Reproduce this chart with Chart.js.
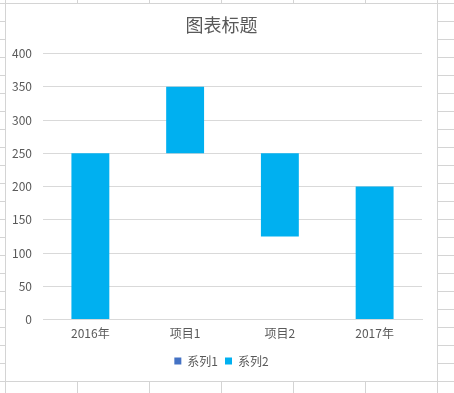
<!DOCTYPE html>
<html><head><meta charset="utf-8">
<script src="https://cdn.jsdelivr.net/npm/chart.js@4/dist/chart.umd.min.js"></script>
<style>
html,body{margin:0;padding:0;width:454px;height:393px;overflow:hidden;background:#fff;}
body{
  background-image:
    repeating-linear-gradient(to right, #d4d4d4 0 1px, transparent 1px 72px),
    repeating-linear-gradient(to bottom, #d4d4d4 0 1px, transparent 1px 18px);
  background-position: 5px 0, 0 3px;
}
#box{position:absolute;left:6px;top:4px;width:431px;height:377px;background:#fff;}
canvas{display:block;}
</style></head>
<body>
<div id="box"><canvas id="c" width="431" height="377"></canvas></div>
<script>
const categories = ['2016年', '项目1', '项目2', '2017年'];
const series1Name = '系列1';
const series2Name = '系列2';
const series1 = [0, 250, 125, 0];      // invisible base
const series2 = [250, 100, 125, 200];  // visible part
const yTicks = [0, 50, 100, 150, 200, 250, 300, 350, 400];

const txt = '#595959';
const font = "'Noto Sans CJK SC', 'DejaVu Sans', sans-serif";
const legendColors = ['#4472C4', '#00B0F0'];

new Chart(document.getElementById('c'), {
  type: 'bar',
  data: {
    labels: categories,
    datasets: [
      { label: series1Name, data: series1, backgroundColor: 'rgba(0,0,0,0)', barPercentage: 0.4, categoryPercentage: 1 },
      { label: series2Name, data: series2, backgroundColor: '#00B0F0', barPercentage: 0.4, categoryPercentage: 1 }
    ]
  },
  options: {
    responsive: false,
    animation: false,
    layout: { padding: { left: 0, right: 0, top: 0, bottom: 4 } },
    plugins: {
      title: { display: true, text: '图表标题', color: txt, font: { family: font, size: 18, weight: 'normal' }, padding: { top: 10, bottom: 18 } },
      legend: {
        position: 'bottom',
        labels: {
          color: txt, font: { family: font, size: 12 }, boxWidth: 7, boxHeight: 7, padding: 7,
          generateLabels: (chart) => chart.data.datasets.map((d, i) => ({
            text: d.label, fillStyle: legendColors[i], strokeStyle: legendColors[i], lineWidth: 0, datasetIndex: i, hidden: false, fontColor: txt
          }))
        }
      },
      tooltip: { enabled: false }
    },
    scales: {
      x: {
        stacked: true,
        grid: { display: false, drawTicks: false },
        border: { display: true, color: '#d9d9d9' },
        ticks: { color: txt, font: { family: font, size: 12 }, padding: 7 }
      },
      y: {
        stacked: true, min: 0, max: 400,
        afterBuildTicks: (ax) => { ax.ticks = yTicks.map(v => ({ value: v })); },
        afterFit: (ax) => { ax.width = 37; },
        grid: { color: '#d9d9d9', drawTicks: false },
        border: { display: false },
        ticks: { color: txt, font: { family: font, size: 12 }, padding: 11 }
      },
      spacer: {
        type: 'linear', position: 'right', display: true,
        afterFit: (ax) => { ax.width = 15; },
        grid: { display: false, drawTicks: false },
        border: { display: false },
        ticks: { display: false }
      }
    }
  }
});
</script>
</body></html>
